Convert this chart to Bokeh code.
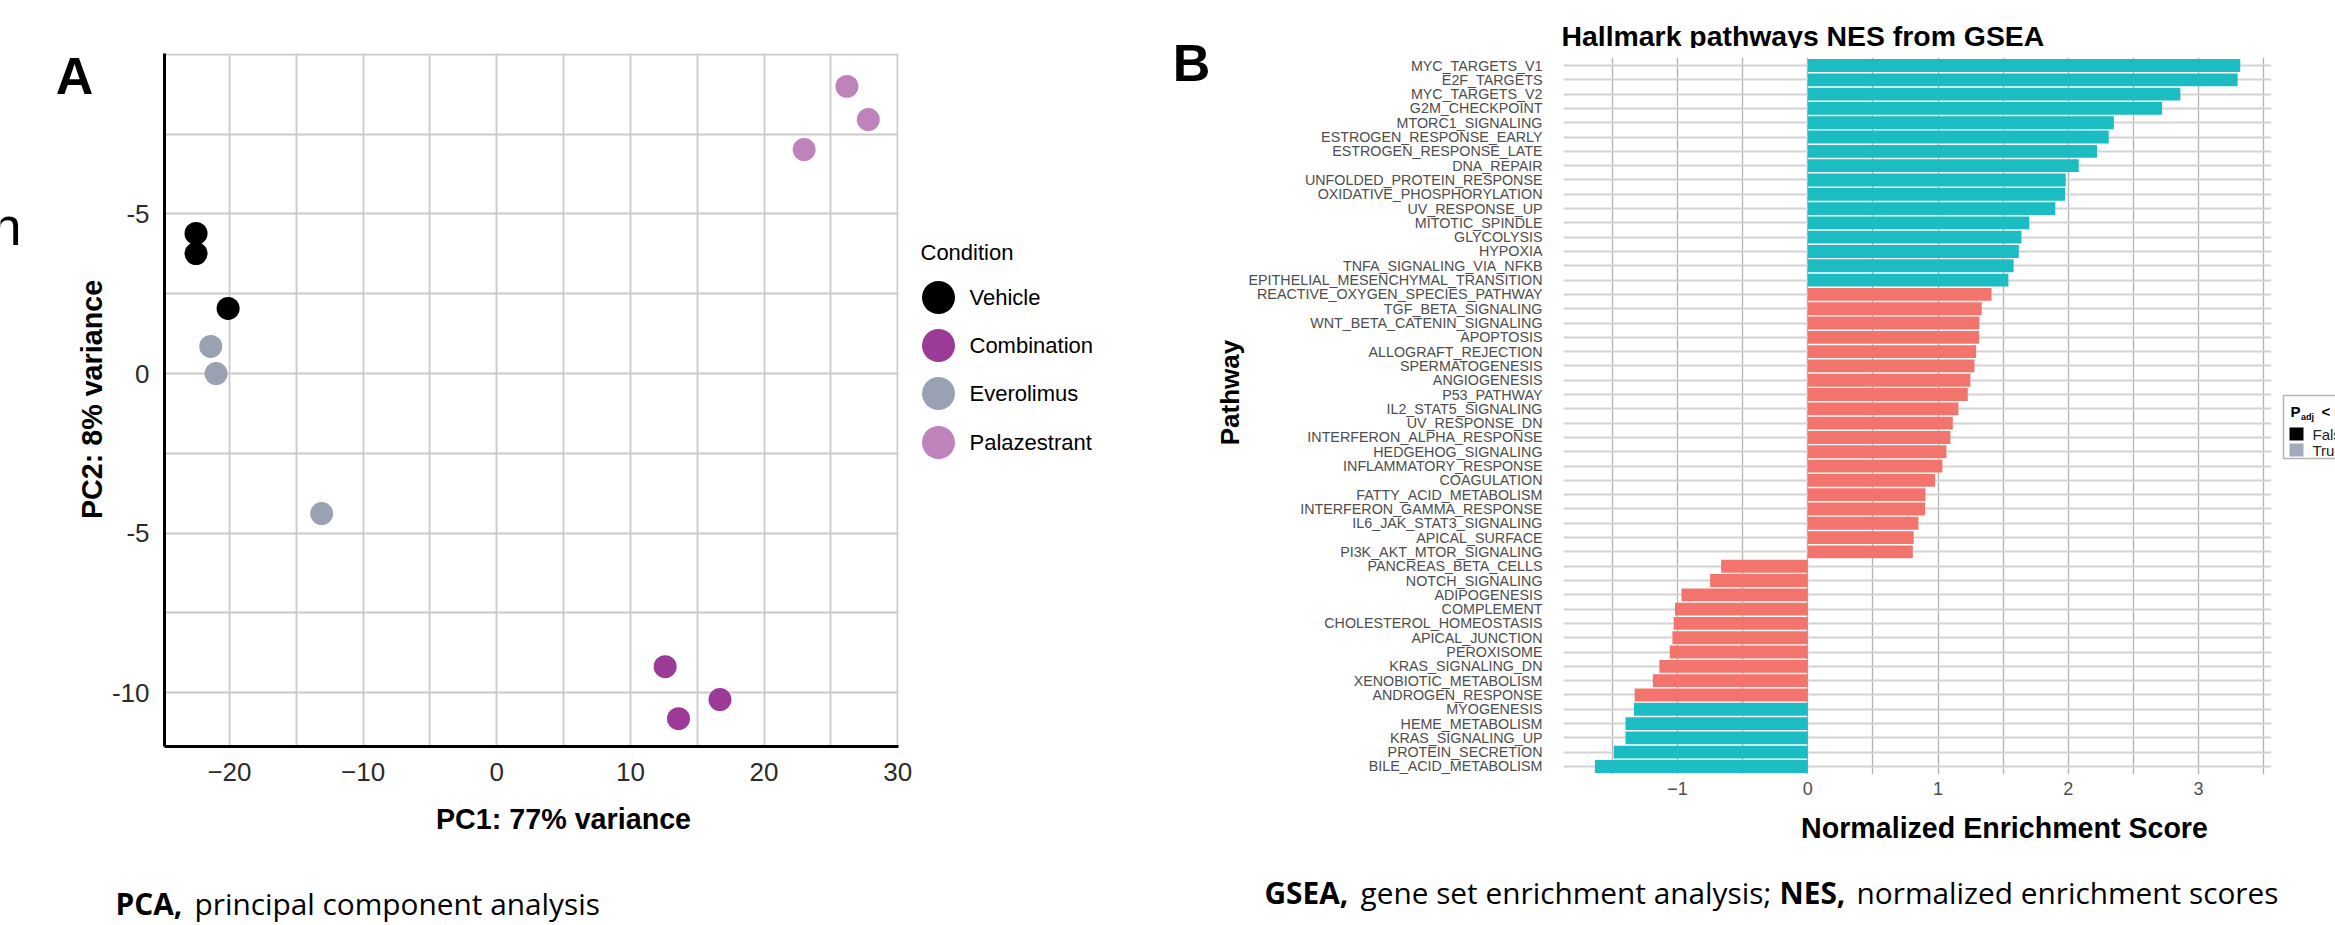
from bokeh.plotting import figure
from bokeh.layouts import row, column
from bokeh.models import Range1d, FixedTicker, ColumnDataSource
from bokeh.core.properties import value
from bokeh.embed import file_html
from bokeh.resources import INLINE

# ---------------- Panel A data (PCA) ----------------
conditions = ["Vehicle", "Combination", "Everolimus", "Palazestrant"]
condition_colors = ["#000000", "#9B3A97", "#99A1B3", "#BE83BA"]
pc1_vehicle = [-22.5, -22.5, -20.1]
pc2_vehicle = [4.39, 3.76, 2.04]
pc1_combination = [12.6, 16.7, 13.6]
pc2_combination = [-9.19, -10.22, -10.82]
pc1_everolimus = [-21.4, -21.0, -13.1]
pc2_everolimus = [0.85, 0.0, -4.39]
pc1_palazestrant = [26.2, 27.8, 23.0]
pc2_palazestrant = [9.0, 7.96, 7.02]
pca_x_ticks = [-20, -10, 0, 10, 20, 30]
pca_x_minor = [-15, -5, 5, 15, 25]
pca_y_ticks = [-10, -5, 0, 5]
pca_y_tick_labels = ["-10", "-5", "0", "-5"]
pca_y_minor = [-7.5, -2.5, 2.5, 7.5, 10]

# ---------------- Panel B data (GSEA) ----------------
pathways = [
    "MYC_TARGETS_V1", "E2F_TARGETS", "MYC_TARGETS_V2", "G2M_CHECKPOINT",
    "MTORC1_SIGNALING", "ESTROGEN_RESPONSE_EARLY", "ESTROGEN_RESPONSE_LATE",
    "DNA_REPAIR", "UNFOLDED_PROTEIN_RESPONSE", "OXIDATIVE_PHOSPHORYLATION",
    "UV_RESPONSE_UP", "MITOTIC_SPINDLE", "GLYCOLYSIS", "HYPOXIA",
    "TNFA_SIGNALING_VIA_NFKB", "EPITHELIAL_MESENCHYMAL_TRANSITION",
    "REACTIVE_OXYGEN_SPECIES_PATHWAY", "TGF_BETA_SIGNALING",
    "WNT_BETA_CATENIN_SIGNALING", "APOPTOSIS", "ALLOGRAFT_REJECTION",
    "SPERMATOGENESIS", "ANGIOGENESIS", "P53_PATHWAY", "IL2_STAT5_SIGNALING",
    "UV_RESPONSE_DN", "INTERFERON_ALPHA_RESPONSE", "HEDGEHOG_SIGNALING",
    "INFLAMMATORY_RESPONSE", "COAGULATION", "FATTY_ACID_METABOLISM",
    "INTERFERON_GAMMA_RESPONSE", "IL6_JAK_STAT3_SIGNALING", "APICAL_SURFACE",
    "PI3K_AKT_MTOR_SIGNALING", "PANCREAS_BETA_CELLS", "NOTCH_SIGNALING",
    "ADIPOGENESIS", "COMPLEMENT", "CHOLESTEROL_HOMEOSTASIS", "APICAL_JUNCTION",
    "PEROXISOME", "KRAS_SIGNALING_DN", "XENOBIOTIC_METABOLISM",
    "ANDROGEN_RESPONSE", "MYOGENESIS", "HEME_METABOLISM", "KRAS_SIGNALING_UP",
    "PROTEIN_SECRETION", "BILE_ACID_METABOLISM",
]
nes = [
    3.32, 3.30, 2.86, 2.72, 2.35, 2.31, 2.22, 2.08, 1.98, 1.975,
    1.90, 1.70, 1.64, 1.62, 1.58, 1.54, 1.41, 1.335, 1.317, 1.315,
    1.292, 1.279, 1.248, 1.228, 1.156, 1.113, 1.095, 1.064, 1.033, 0.977,
    0.903, 0.90, 0.849, 0.813, 0.806, -0.666, -0.75, -0.97, -1.02, -1.03,
    -1.04, -1.06, -1.14, -1.19, -1.33, -1.335, -1.40, -1.40, -1.49, -1.635,
]
significant = [True] * 16 + [False] * 29 + [True] * 5
nes_ticks = [-1, 0, 1, 2, 3]
nes_tick_labels = ["\u22121", "0", "1", "2", "3"]
nes_minor = [-1.5, -0.5, 0.5, 1.5, 2.5, 3.5]
padj_levels = ["False", "True"]
padj_colors = ["#000000", "#A3AABB"]

SANS = "Liberation Sans"
CAP = "Open Sans"

# page geometry in page pixels (the page itself starts at 0, 0)
PAGE_W = 2335
ROW_BOTTOM = 803
PAGE_BOTTOM = 925
B_LEFT = 1245


def strip(x0, x1, y0, y1):
    """A plain drawing area whose data units are page pixels (y negated)."""
    f = figure(width=x1 - x0, height=y1 - y0, x_range=Range1d(x0, x1),
               y_range=Range1d(-y1, -y0), x_axis_location=None,
               y_axis_location=None, min_border=0, output_backend="svg",
               toolbar_location=None)
    f.outline_line_color = None
    f.grid.visible = False
    return f


def txt(f, X, Y, text, size, font=SANS, style="normal", align="left",
        baseline="middle", angle=0, color="black"):
    f.text([X], [-Y], text=[text], text_font=value(font),
           text_font_size=value(size), text_font_style=style,
           text_align=align, text_baseline=baseline, angle=angle,
           angle_units="deg", text_color=color)


# ======================= left strip of panel A =======================
stripA = strip(0, 106, 0, ROW_BOTTOM)
txt(stripA, -9, 225, "n", "54px", baseline="alphabetic")
txt(stripA, 74, 75, "A", "52px", style="bold", align="center")
txt(stripA, 91, 399, "PC2: 8% variance", "28.7px", style="bold", align="center", angle=90)

# ======================= Panel A =======================
figA = figure(width=809, height=ROW_BOTTOM, x_range=Range1d(-24.86, 30.06),
              y_range=Range1d(-11.69, 10.03), output_backend="svg",
              toolbar_location=None, min_border_left=58, min_border_right=17,
              min_border_top=53, min_border_bottom=ROW_BOTTOM - 53 - 693)
figA.outline_line_color = None
figA.xaxis.ticker = FixedTicker(ticks=pca_x_ticks, minor_ticks=pca_x_minor)
figA.yaxis.ticker = FixedTicker(ticks=pca_y_ticks, minor_ticks=pca_y_minor)
figA.yaxis.major_label_overrides = {t: s for t, s in zip(pca_y_ticks, pca_y_tick_labels)}
for ax in figA.axis:
    ax.major_tick_line_color = None
    ax.minor_tick_line_color = None
    ax.major_tick_out = 0
    ax.major_tick_in = 0
    ax.minor_tick_out = 0
    ax.minor_tick_in = 0
    ax.major_label_text_font = SANS
    ax.major_label_text_font_size = "26px"
    ax.major_label_text_color = "#2b2b2b"
    ax.axis_line_color = "black"
    ax.axis_line_width = 3
figA.xaxis.major_label_standoff = 16
figA.yaxis.major_label_standoff = 15
for g in (figA.xgrid, figA.ygrid):
    g.grid_line_color = "#cacaca"
    g.grid_line_width = 1.8
    g.minor_grid_line_color = "#cacaca"
    g.minor_grid_line_width = 1.8

series_x = [pc1_vehicle, pc1_combination, pc1_everolimus, pc1_palazestrant]
series_y = [pc2_vehicle, pc2_combination, pc2_everolimus, pc2_palazestrant]
for xs, ys, col in zip(series_x, series_y, condition_colors):
    figA.scatter(xs, ys, size=23, fill_color=col, line_color=None)

# ================= Panel A legend =================
figLA = strip(915, 1150, 0, ROW_BOTTOM)
leg_y = [297, 345, 393, 442]
txt(figLA, 920, 252, "Condition", "22px")
figLA.scatter([938] * 4, [-v for v in leg_y], size=33,
              fill_color=condition_colors, line_color=None)
figLA.text([969] * 4, [-v for v in leg_y], text=conditions, text_font=value(SANS),
           text_font_size=value("22px"), text_baseline="middle", text_color="black")

# ======================= left strip of panel B =======================
stripB = strip(1150, B_LEFT, 0, ROW_BOTTOM)
txt(stripB, 1191, 62, "B", "52px", style="bold", align="center")
txt(stripB, 1229, 392, "Pathway", "26px", style="bold", align="center", angle=90)

# ======================= Panel B =======================
titleB = strip(B_LEFT, 2278, 0, 48)
txt(titleB, 1561, 35, "Hallmark pathways NES from GSEA", "28.4px", style="bold")

n = len(pathways)
ypos = [n - i for i in range(n)]
bar_colors = ["#1CBDC2" if s else "#F3746D" for s in significant]
src = ColumnDataSource(dict(y=ypos, nes=nes, color=bar_colors, name=pathways))

figB = figure(width=2278 - B_LEFT, height=ROW_BOTTOM - 48, x_range=Range1d(-1.876, 3.560),
              y_range=Range1d(0.44, n + 0.56), output_backend="svg",
              toolbar_location=None, min_border_left=1561 - B_LEFT, min_border_right=7,
              min_border_top=9, min_border_bottom=ROW_BOTTOM - 48 - 9 - 717)
figB.outline_line_color = None
figB.hbar(y="y", left=0, right="nes", height=0.9, fill_color="color",
          line_color=None, source=src)
figB.yaxis.ticker = FixedTicker(ticks=ypos, minor_ticks=[])
figB.yaxis.major_label_overrides = {yv: nm for yv, nm in zip(ypos, pathways)}
figB.xaxis.ticker = FixedTicker(ticks=nes_ticks, minor_ticks=nes_minor)
figB.xaxis.major_label_overrides = {t: s for t, s in zip(nes_ticks, nes_tick_labels)}
for ax in figB.axis:
    ax.axis_line_color = None
    ax.major_tick_line_color = None
    ax.minor_tick_line_color = None
    ax.major_tick_out = 0
    ax.major_tick_in = 0
    ax.minor_tick_out = 0
    ax.minor_tick_in = 0
    ax.major_label_text_font = SANS
    ax.major_label_text_color = "#4d4d4d"
figB.yaxis.major_label_text_font_size = "14.3px"
figB.yaxis.major_label_standoff = 21
figB.xaxis.major_label_text_font_size = "18px"
figB.xaxis.major_label_standoff = 7
figB.xgrid.grid_line_color = "#b3b3b3"
figB.xgrid.grid_line_width = 1.3
figB.xgrid.minor_grid_line_color = "#b3b3b3"
figB.xgrid.minor_grid_line_width = 1.3
figB.ygrid.grid_line_color = "#d3d3d3"
figB.ygrid.grid_line_width = 2

# ================= Panel B legend (cut at page edge) =================
figLB = strip(2278, PAGE_W, 0, ROW_BOTTOM)
figLB.quad(left=[2283], right=[2360], top=[-395], bottom=[-458],
           fill_color="white", line_color="#b5b5b5", line_width=1.5)
figLB.quad(left=[2289, 2289], right=[2303, 2303], top=[-427, -443],
           bottom=[-440, -456], fill_color=padj_colors, line_color=None)
txt(figLB, 2290, 411, "P", "15px", style="bold")
txt(figLB, 2300.5, 416, "adj", "9px", style="bold")
txt(figLB, 2321, 411, "< 0.05", "15px", style="bold")
figLB.text([2312, 2312], [-434, -450], text=padj_levels, text_font=value(SANS),
           text_font_size=value("15px"), text_baseline="middle", text_color="#222222")

# ================= bottom strip: axis titles and captions =================
bottom = strip(0, PAGE_W, ROW_BOTTOM, PAGE_BOTTOM)
txt(bottom, 563, 818, "PC1: 77% variance", "28.7px", style="bold", align="center")
txt(bottom, 2004, 827, "Normalized Enrichment Score", "28.6px", style="bold", align="center")
txt(bottom, 115, 903, "PCA,", "29.8px", font=CAP, style="bold")
txt(bottom, 194, 903, "principal component analysis", "29.8px", font=CAP)
txt(bottom, 1264, 892, "GSEA,", "29.8px", font=CAP, style="bold")
txt(bottom, 1360, 892, "gene set enrichment analysis;", "29.8px", font=CAP)
txt(bottom, 1779, 892, "NES,", "29.8px", font=CAP, style="bold")
txt(bottom, 1856, 892, "normalized enrichment scores", "29.8px", font=CAP)

# each plot is wrapped on its own so that the layout does not align their frames
panelB = column(row(titleB, spacing=0), row(figB, spacing=0), spacing=0)
top_row = row(column(stripA), column(figA), column(figLA), column(stripB),
              panelB, column(figLB), spacing=0)
layout = column(top_row, row(bottom, spacing=0), spacing=0)
open("out.html", "w").write(file_html(layout, INLINE))
